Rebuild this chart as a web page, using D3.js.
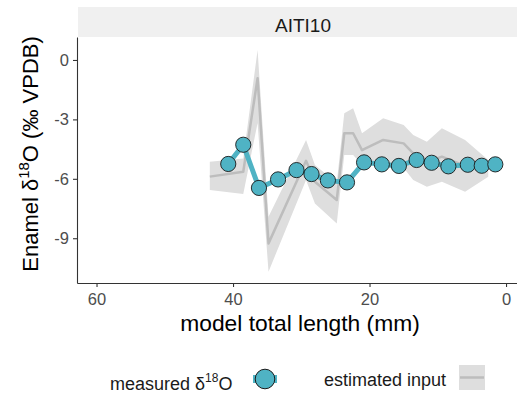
<!DOCTYPE html>
<html>
<head>
<meta charset="utf-8">
<script src="https://cdn.jsdelivr.net/npm/d3@7"></script>
<style>
  body { margin: 0; background: #fff; }
  svg { font-family: "Liberation Sans", Arial, sans-serif; }
</style>
</head>
<body>
<script>
// measured samples
const measMm = [40.7, 38.5, 36.2, 33.4, 30.7, 28.5, 26.1, 23.3, 20.8, 18.2, 15.7, 13.1, 10.9, 8.45, 5.6, 3.56, 1.57]
const measD18O = [-5.25, -4.28, -6.46, -6.03, -5.56, -5.76, -6.08, -6.18, -5.17, -5.27, -5.35, -5.05, -5.19, -5.37, -5.29, -5.34, -5.27]

// estimated input with its band
const estMm = [43.4, 38.5, 36.4, 34.8, 29.3, 28.0, 24.8, 23.7, 22.4, 21.1, 18.0, 15.0, 13.6, 11.6, 9.4, 6.0, 2.6]
const estMean = [-5.89, -5.64, -0.92, -9.26, -5.09, -6.15, -7.07, -3.70, -3.70, -4.55, -4.04, -4.21, -4.71, -5.15, -4.88, -5.35, -5.45]
const estLow = [-6.57, -6.77, -3.18, -10.69, -6.06, -7.24, -8.25, -4.80, -4.80, -5.30, -5.20, -5.45, -6.06, -6.40, -6.15, -6.65, -5.89]
const estHigh = [-5.14, -4.97, 0.50, -7.91, -4.04, -5.30, -6.21, -2.69, -2.44, -3.70, -2.94, -3.28, -3.79, -4.13, -3.45, -4.04, -5.05]

const xTicks = [60, 40, 20, 0]
const yTicks = [0, -3, -6, -9]
const facetLabel = 'AITI10'

const w = 517
const h = 396
// panel runs slightly past the right edge of the window
const pLeft = 77, pRight = 525, pTop = 37, pBottom = 283

const svg = d3.select('body').append('svg')
  .attr('width', w)
  .attr('height', h)

const xScale = d3.scaleLinear().domain([62.86, -2.78]).range([pLeft, pRight])
const yScale = d3.scaleLinear().domain([-11.26, 1.16]).range([pBottom, pTop])

const meas = measMm.map((m, i) => ({ x: m, y: measD18O[i] }))
const est = estMm.map((m, i) => ({ x: m, y: estMean[i], lo: estLow[i], hi: estHigh[i] }))

// strip
svg.append('rect')
  .attr('x', pLeft + 1).attr('y', 7)
  .attr('width', pRight - pLeft - 1).attr('height', 30)
  .attr('fill', '#f0f0f0')
svg.append('text')
  .attr('x', (pLeft + pRight) / 2 + 2).attr('y', 31.5)
  .attr('text-anchor', 'middle')
  .attr('font-size', 19)
  .attr('fill', '#1a1a1a')
  .text(facetLabel)

const plot = svg.append('g')

plot.append('path')
  .datum(est)
  .attr('fill', '#dedede')
  .attr('d', d3.area().x(d => xScale(d.x)).y0(d => yScale(d.lo)).y1(d => yScale(d.hi)))

plot.append('path')
  .datum(est)
  .attr('fill', 'none')
  .attr('stroke', '#bdbdbd')
  .attr('stroke-width', 2.5)
  .attr('stroke-linejoin', 'round')
  .attr('d', d3.line().x(d => xScale(d.x)).y(d => yScale(d.y)))

plot.append('path')
  .datum(meas)
  .attr('fill', 'none')
  .attr('stroke', '#4fb3c4')
  .attr('stroke-width', 5)
  .attr('stroke-linejoin', 'round')
  .attr('d', d3.line().x(d => xScale(d.x)).y(d => yScale(d.y)))

plot.selectAll('circle')
  .data(meas)
  .enter()
  .append('circle')
  .attr('cx', d => xScale(d.x))
  .attr('cy', d => yScale(d.y))
  .attr('r', 7.6)
  .attr('fill', '#4fb3c4')
  .attr('stroke', '#1a1a1a')
  .attr('stroke-width', 0.9)

// axes
const xAxis = svg.append('g')
  .attr('transform', `translate(0,${pBottom})`)
  .call(d3.axisBottom(xScale).tickValues(xTicks).tickSize(4).tickPadding(3).tickSizeOuter(0))
const yAxis = svg.append('g')
  .attr('transform', `translate(${pLeft},0)`)
  .call(d3.axisLeft(yScale).tickValues(yTicks).tickSize(4).tickPadding(4).tickSizeOuter(0)
    .tickFormat(d => d < 0 ? '-' + Math.abs(d) : d))

;[xAxis, yAxis].forEach(a => {
  a.select('.domain').attr('stroke', '#333').attr('stroke-width', 1.1)
  a.selectAll('.tick line').attr('stroke', '#333').attr('stroke-width', 1.1)
  a.selectAll('.tick text')
    .attr('fill', '#4d4d4d')
    .attr('font-size', 16.5)
    .attr('font-family', '"Liberation Sans", Arial, sans-serif')
})
xAxis.selectAll('.tick text').attr('dy', '0.9em')

// axis titles
svg.append('text')
  .attr('x', 300).attr('y', 331)
  .attr('text-anchor', 'middle')
  .attr('font-size', 22.8)
  .attr('fill', '#000')
  .text('model total length (mm)')

const yt = svg.append('text')
  .attr('transform', `translate(38,154) rotate(-90)`)
  .attr('text-anchor', 'middle')
  .attr('font-size', 22)
  .attr('fill', '#000')
yt.append('tspan').text('Enamel δ')
yt.append('tspan').attr('font-size', 15).attr('dy', -9).text('18')
yt.append('tspan').attr('dy', 9).text('O (‰ VPDB)')

// legend
const lg = svg.append('g')
const lt1 = lg.append('text')
  .attr('x', 110).attr('y', 390)
  .attr('font-size', 18)
  .attr('fill', '#1a1a1a')
lt1.append('tspan').text('measured δ')
lt1.append('tspan').attr('font-size', 12).attr('dy', -8).text('18')
lt1.append('tspan').attr('dy', 8).text('O')

lg.append('line')
  .attr('x1', 253).attr('x2', 277).attr('y1', 379).attr('y2', 379)
  .attr('stroke', '#4fb3c4').attr('stroke-width', 8)
lg.append('circle')
  .attr('cx', 265).attr('cy', 379).attr('r', 9.8)
  .attr('fill', '#4fb3c4').attr('stroke', '#1a1a1a').attr('stroke-width', 1)

lg.append('text')
  .attr('x', 324).attr('y', 386)
  .attr('font-size', 18)
  .attr('fill', '#1a1a1a')
  .text('estimated input')
lg.append('rect')
  .attr('x', 459).attr('y', 365).attr('width', 26).attr('height', 25)
  .attr('fill', '#dedede')
lg.append('line')
  .attr('x1', 460).attr('x2', 484).attr('y1', 377.5).attr('y2', 377.5)
  .attr('stroke', '#bdbdbd').attr('stroke-width', 2.5)
</script>
</body>
</html>
